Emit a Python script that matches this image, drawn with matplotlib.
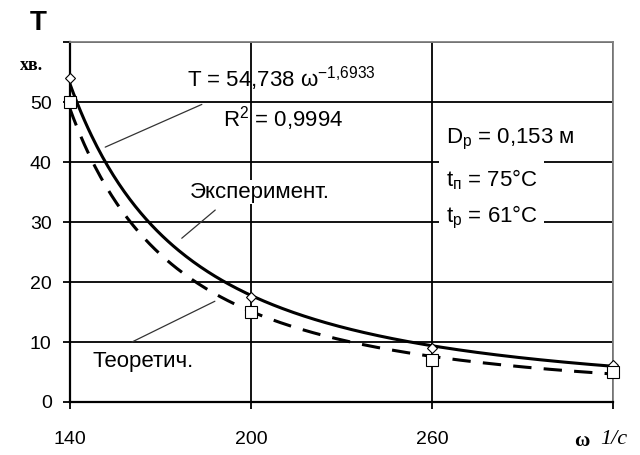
import numpy as np
import matplotlib
matplotlib.use("Agg")
from matplotlib import pyplot as plt

plt.rcParams['font.family'] = ['Liberation Sans', 'DejaVu Sans']
plt.rcParams['mathtext.fontset'] = 'custom'
plt.rcParams['mathtext.rm'] = 'Liberation Sans'
plt.rcParams['mathtext.it'] = 'Liberation Sans:italic'

# data
omega = [140, 200, 260, 320]
t_exp = [54.0, 17.5, 9.0, 6.2]      # Эксперимент. (diamonds)
t_theor = [50.0, 15.0, 7.0, 5.0]    # Теоретич. (squares)
x_ticks = [140, 200, 260]
y_ticks = [0, 10, 20, 30, 40, 50]

omega = np.array(omega, dtype=float)
step = omega[1] - omega[0]
w = np.linspace(omega[0], omega[-1], 300)
idx = 1 + (w - omega[0]) / step
n = np.arange(1, len(omega) + 1)

# power trendlines on point number (as Excel does)
b1, a1 = np.polyfit(np.log(n), np.log(t_exp), 1)
t_exp_curve = np.exp(a1) * idx ** b1
b2, a2 = np.polyfit(np.log(n), np.log(t_theor), 1)
t_th_curve = np.exp(a2) * idx ** b2

fig = plt.figure(figsize=(6.4, 4.55), dpi=100)
ax = fig.add_axes([0.109, 0.1165, 0.849, 0.791])

ax.plot(w, t_exp_curve, color='black', lw=2.2, zorder=4)
ax.plot(w, t_th_curve, color='black', lw=2.2, dashes=(6, 4), zorder=4)
ax.plot(omega, t_exp, ls='none', marker='D', ms=5, mfc='white', mec='black', mew=0.8,
        zorder=5, clip_on=False)
ax.plot(omega, t_theor, ls='none', marker='s', ms=8, mfc='white', mec='black', mew=0.8,
        zorder=5, clip_on=False)

ax.set_xlim(140, 320)
ax.set_ylim(0, 60)
ax.set_xticks(x_ticks + [320])
ax.set_xticklabels([str(v) for v in x_ticks] + [''])
ax.set_yticks(y_ticks + [60])
ax.set_yticklabels([str(v) for v in y_ticks] + [''])
ax.tick_params(direction='out', length=5, width=1.3, labelsize=14, colors='black')
ax.tick_params(axis='x', pad=16)
ax.tick_params(axis='y', pad=8)
ax.grid(True, color='black', lw=1.3, zorder=1)
ax.set_axisbelow(True)
for s in ['left', 'bottom']:
    ax.spines[s].set_linewidth(1.6)
for s in ['top', 'right']:
    ax.spines[s].set_color('#808080')
    ax.spines[s].set_linewidth(1.3)

box = dict(facecolor='white', edgecolor='none', pad=1)
ax.text(178.7, 54, r'T = 54,738 ω$^{\mathrm{-1{,}6933}}$', fontsize=16, ha='left', va='center', zorder=3)
ax.text(190.6, 47.3, r'R$^2$ = 0,9994', fontsize=16, ha='left', va='center', zorder=3)
ax.text(179.7, 35, 'Эксперимент.', fontsize=16, ha='left', va='center', bbox=box, zorder=3)
ax.text(147.6, 6.7, 'Теоретич.', fontsize=16, ha='left', va='center', bbox=box, zorder=3)

side = dict(facecolor='white', edgecolor='none', boxstyle='square,pad=0.3')
ax.text(264.6, 43.7, r'D$_\mathrm{р}$ = 0,153 м', fontsize=16, ha='left', va='center', zorder=3, bbox=side)
ax.text(264.6, 37.0, r't$_\mathrm{п}$ = 75°C', fontsize=16, ha='left', va='center', zorder=3, bbox=side)
ax.text(264.6, 30.8, r't$_\mathrm{р}$ = 61°C', fontsize=16, ha='left', va='center', zorder=3, bbox=side)

lead = dict(arrowstyle='-', color='#333333', lw=0.9)
ax.annotate('', xy=(150.9, 42.3), xytext=(184.6, 49.8), arrowprops=lead, zorder=3)
ax.annotate('', xy=(176.4, 27.0), xytext=(188.9, 32.3), arrowprops=lead, zorder=3)
ax.annotate('', xy=(188.9, 17.0), xytext=(159.8, 9.8), arrowprops=lead, zorder=3)

fig.text(38 / 640, 1 - 23 / 455, 'T', fontsize=20, fontweight='bold', ha='center', va='center')
fig.text(31 / 640, 1 - 66 / 455, 'хв.', fontsize=13, fontweight='bold', family='Liberation Serif',
         ha='center', va='center')
fig.text(582 / 640, 1 - 441 / 455, 'ω', fontsize=15, fontweight='bold', family='Liberation Serif',
         ha='center', va='center')
fig.text(614 / 640, 1 - 440 / 455, '1/c', fontsize=16, style='italic', family='Liberation Serif',
         ha='center', va='center')

fig.savefig('out.png', dpi=100)
